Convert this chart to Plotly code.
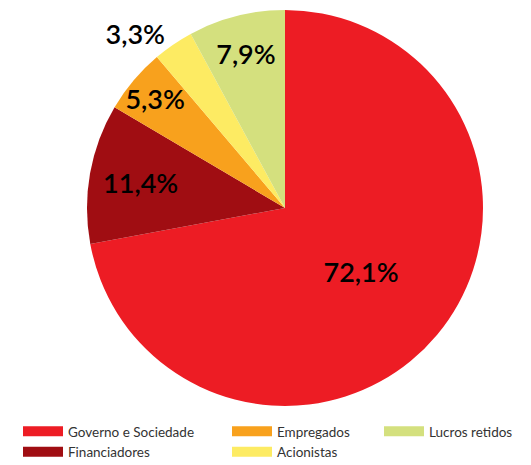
import plotly.graph_objects as go

# slices, clockwise from 12 o'clock
labels = ["Governo e Sociedade", "Financiadores", "Empregados", "Acionistas", "Lucros retidos"]
values = [72.1, 11.4, 5.3, 3.3, 7.9]
colors = ["#ED1C24", "#A00D12", "#F8A11D", "#FDEB63", "#D4E07E"]
text_pos = ["inside", "inside", "inside", "outside", "inside"]

# legend columns (column-major like the original)
legend_cols = [["Governo e Sociedade", "Financiadores"], ["Empregados", "Acionistas"], ["Lucros retidos"]]

W, H = 531, 465

fig = go.Figure()
fig.add_trace(go.Pie(
    labels=labels,
    values=values,
    text=[f"{v:.1f}%".replace(".", ",") for v in values],
    textinfo="text",
    textposition=text_pos,
    insidetextorientation="horizontal",
    marker=dict(colors=colors, line=dict(width=0)),
    textfont=dict(family="Lato", size=27, color="black", weight=600),
    sort=False,
    direction="clockwise",
    rotation=0,
    showlegend=False,
    hoverinfo="label+percent",
    domain=dict(x=[79 / W, 475 / W], y=[(H - 398) / H, (H - 2) / H]),
))

# legend-only traces
col_map = dict(zip(labels, colors))
legend_names = ["legend", "legend2", "legend3"]
for lg, col in zip(legend_names, legend_cols):
    for name in col:
        fig.add_trace(go.Scatter(
            x=[None], y=[None], mode="lines", name=name,
            line=dict(color=col_map[name], width=12),
            legend=lg, hoverinfo="skip",
        ))

legend_style = dict(
    orientation="v", yanchor="top", xanchor="left",
    font=dict(family="Lato", size=13.5, color="#333333"),
    bgcolor="rgba(0,0,0,0)", tracegroupgap=0, itemwidth=40,
)
fig.update_layout(
    width=W, height=H,
    margin=dict(l=0, r=0, t=0, b=0, autoexpand=False),
    paper_bgcolor="white", plot_bgcolor="white",
    uniformtext=dict(minsize=27, mode="show"),
    xaxis=dict(visible=False), yaxis=dict(visible=False),
    legend=dict(x=10 / W, y=1 - 408 / H, **legend_style),
    legend2=dict(x=219 / W, y=1 - 408 / H, **legend_style),
    legend3=dict(x=371 / W, y=1 - 408 / H, **legend_style),
)

fig.write_html("out.html")
